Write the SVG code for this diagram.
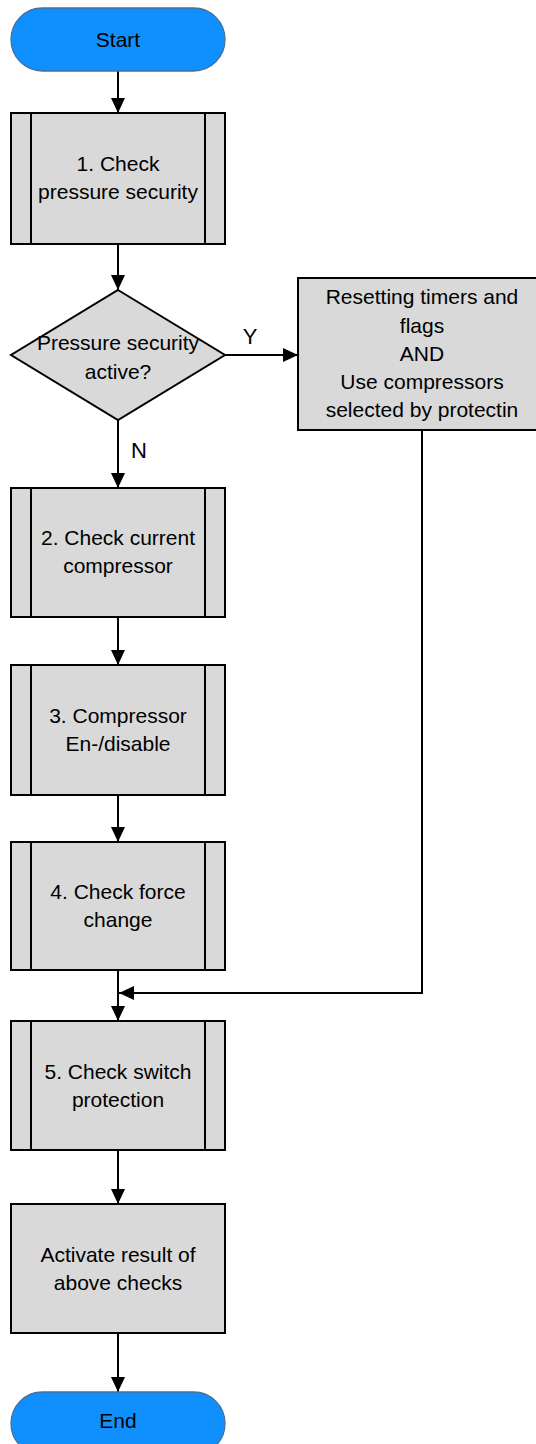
<svg xmlns="http://www.w3.org/2000/svg" width="536" height="1444" viewBox="0 0 536 1444">
<style>
.term{fill:#1090fe;stroke:#41719c;stroke-width:1.3}
.proc{fill:#d9d9d9;stroke:#000;stroke-width:2}
.sub{fill:none;stroke:#000;stroke-width:2}
.t{font-family:"Liberation Sans",Arial,sans-serif;font-size:21px;fill:#000;text-anchor:middle}
.lbl{font-size:22px}
.c{fill:none;stroke:#000;stroke-width:2}
</style>
<defs>
<marker id="ah" markerUnits="userSpaceOnUse" markerWidth="16" markerHeight="14" refX="15" refY="7" orient="auto">
<path d="M0,0 L15,7 L0,14 z" fill="#000"/>
</marker>
</defs>
<rect width="536" height="1444" fill="#fff"/>
<g id="connectors">
<line class="c" x1="118" y1="71" x2="118" y2="113" marker-end="url(#ah)"/>
<line class="c" x1="118" y1="244" x2="118" y2="290" marker-end="url(#ah)"/>
<line class="c" x1="225" y1="355" x2="298" y2="355" marker-end="url(#ah)"/>
<line class="c" x1="118" y1="420" x2="118" y2="488" marker-end="url(#ah)"/>
<line class="c" x1="118" y1="617" x2="118" y2="665" marker-end="url(#ah)"/>
<line class="c" x1="118" y1="795" x2="118" y2="842" marker-end="url(#ah)"/>
<line class="c" x1="118" y1="970" x2="118" y2="1021" marker-end="url(#ah)"/>
<polyline class="c" points="422,430 422,993 119,993" marker-end="url(#ah)"/>
<line class="c" x1="118" y1="1150" x2="118" y2="1204" marker-end="url(#ah)"/>
<line class="c" x1="118" y1="1333" x2="118" y2="1392" marker-end="url(#ah)"/>
<text class="t lbl" x="250" y="344">Y</text>
<text class="t lbl" x="139" y="458">N</text>
</g>
<g id="start">
<rect class="term" x="11" y="8" width="214" height="63" rx="31.5"/>
<text class="t" x="118" y="47">Start</text>
</g>
<g id="step1">
<rect class="proc" x="11" y="113" width="214" height="131"/>
<line class="sub" x1="31" y1="113" x2="31" y2="244"/>
<line class="sub" x1="205" y1="113" x2="205" y2="244"/>
<text class="t" x="118" y="171">1. Check</text>
<text class="t" x="118" y="199">pressure security</text>
</g>
<g id="decision">
<polygon class="proc" points="118,290 225,355 118,420 11,355"/>
<text class="t" x="118" y="350">Pressure security</text>
<text class="t" x="118" y="379">active?</text>
</g>
<g id="reset">
<rect class="proc" x="298" y="278" width="250" height="152"/>
<text class="t" x="422" y="304">Resetting timers and</text>
<text class="t" x="422" y="333">flags</text>
<text class="t" x="422" y="361">AND</text>
<text class="t" x="422" y="389">Use compressors</text>
<text class="t" x="422" y="417">selected by protectin</text>
</g>
<g id="step2">
<rect class="proc" x="11" y="488" width="214" height="129"/>
<line class="sub" x1="31" y1="488" x2="31" y2="617"/>
<line class="sub" x1="205" y1="488" x2="205" y2="617"/>
<text class="t" x="118" y="545">2. Check current</text>
<text class="t" x="118" y="573">compressor</text>
</g>
<g id="step3">
<rect class="proc" x="11" y="665" width="214" height="130"/>
<line class="sub" x1="31" y1="665" x2="31" y2="795"/>
<line class="sub" x1="205" y1="665" x2="205" y2="795"/>
<text class="t" x="118" y="723">3. Compressor</text>
<text class="t" x="118" y="751">En-/disable</text>
</g>
<g id="step4">
<rect class="proc" x="11" y="842" width="214" height="128"/>
<line class="sub" x1="31" y1="842" x2="31" y2="970"/>
<line class="sub" x1="205" y1="842" x2="205" y2="970"/>
<text class="t" x="118" y="899">4. Check force</text>
<text class="t" x="118" y="927">change</text>
</g>
<g id="step5">
<rect class="proc" x="11" y="1021" width="214" height="129"/>
<line class="sub" x1="31" y1="1021" x2="31" y2="1150"/>
<line class="sub" x1="205" y1="1021" x2="205" y2="1150"/>
<text class="t" x="118" y="1079">5. Check switch</text>
<text class="t" x="118" y="1107">protection</text>
</g>
<g id="activate">
<rect class="proc" x="11" y="1204" width="214" height="129"/>
<text class="t" x="118" y="1262">Activate result of</text>
<text class="t" x="118" y="1290">above checks</text>
</g>
<g id="end">
<rect class="term" x="11" y="1392" width="214" height="63" rx="31.5"/>
<text class="t" x="118" y="1428">End</text>
</g>
</svg>
